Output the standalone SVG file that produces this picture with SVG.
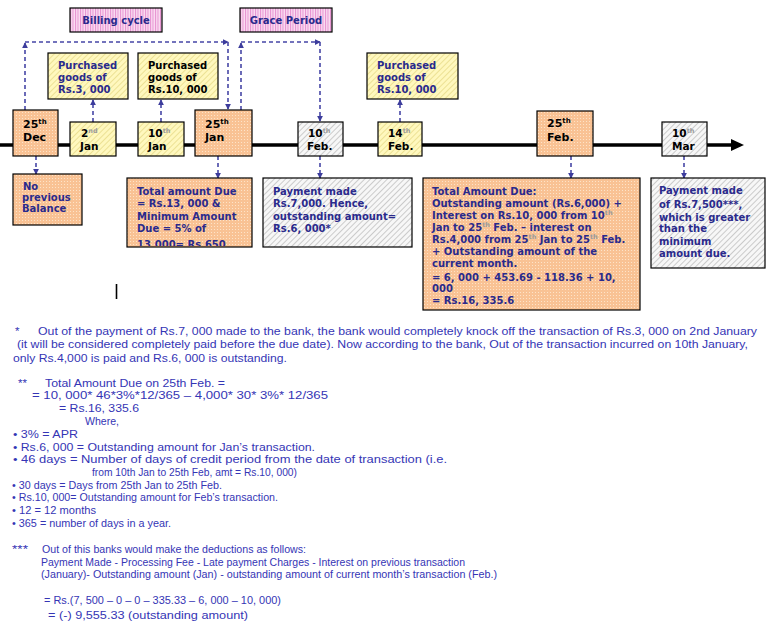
<svg xmlns="http://www.w3.org/2000/svg" width="780" height="630" viewBox="0 0 780 630">
<defs>
<pattern id="dots" width="3" height="3" patternUnits="userSpaceOnUse"><rect width="3" height="3" fill="#F9C294"/><rect x="1" y="1" width="1" height="1" fill="#FDE3C8"/></pattern>
<pattern id="yhatch" width="4" height="4" patternUnits="userSpaceOnUse" patternTransform="rotate(45)"><rect width="4" height="4" fill="#FFF8BE"/><line x1="0" y1="0" x2="0" y2="4" stroke="#D9CB6A" stroke-width="1"/></pattern>
<pattern id="ghatch" width="4" height="4" patternUnits="userSpaceOnUse" patternTransform="rotate(45)"><rect width="4" height="4" fill="#F7F7F7"/><line x1="0" y1="0" x2="0" y2="4" stroke="#A0A0A0" stroke-width="1"/></pattern>
<pattern id="pstripe" width="2.5" height="4" patternUnits="userSpaceOnUse"><rect width="2.5" height="4" fill="#FADDF2"/><line x1="0.5" y1="0" x2="0.5" y2="4" stroke="#E690D0" stroke-width="1"/></pattern>
<marker id="ah" viewBox="0 0 8 8" refX="7" refY="4" markerWidth="6" markerHeight="6" markerUnits="userSpaceOnUse" orient="auto"><path d="M0,0 L8,4 L0,8 Z" fill="#3C3C9C"/></marker>
<clipPath id="c25jan"><rect x="128" y="179" width="123" height="67"/></clipPath>
<style>
.box{stroke:#000;stroke-width:1.2}
.dash{fill:none;stroke:#4646A6;stroke-width:1.6;stroke-dasharray:4,3}
.bt{font-family:"DejaVu Sans",Verdana,sans-serif;font-weight:bold;font-size:10px;fill:#2A2A8C}
.bk{fill:#000}
.dt{font-family:"DejaVu Sans",Verdana,sans-serif;font-weight:bold;font-size:11px;fill:#000}
.ds{font-family:"DejaVu Sans",Verdana,sans-serif;font-weight:bold;font-size:10.5px;fill:#000}
.sup{font-size:7px}
.lsup{font-size:6.5px;fill:#9A9A9A}
.nt{font-family:"Liberation Sans",Arial,sans-serif;font-size:11.5px;fill:#3535B5}
.ns{font-size:10.5px}
</style>
</defs>
<rect width="780" height="630" fill="#fff"/>

<g id="billing-cycle"><rect class="box" x="70" y="8" width="92" height="24" fill="url(#pstripe)"/><text class="bt" x="116" y="24" text-anchor="middle">Billing cycle</text></g>
<g id="grace-period"><rect class="box" x="240" y="8" width="92" height="24" fill="url(#pstripe)"/><text class="bt" x="286" y="24" text-anchor="middle">Grace Period</text></g>

<g id="timeline">
<line x1="0" y1="145" x2="734" y2="145" stroke="#000" stroke-width="3.5"/>
<polygon points="731,139 744,145 731,151" fill="#000"/>
</g>

<g id="connectors">
<path class="dash" d="M25,110 V43" marker-end="url(#ah)"/>
<path class="dash" d="M25,42 H228" marker-end="url(#ah)"/>
<path class="dash" d="M228,42 V109" marker-end="url(#ah)"/>
<path class="dash" d="M241,110 V43" marker-end="url(#ah)"/>
<path class="dash" d="M241,42 H320" marker-end="url(#ah)"/>
<path class="dash" d="M320,42 V121" marker-end="url(#ah)"/>
<path class="dash" d="M93,122 V100" marker-end="url(#ah)"/>
<path class="dash" d="M161,122 V100" marker-end="url(#ah)"/>
<path class="dash" d="M400,122 V100" marker-end="url(#ah)"/>
<path class="dash" d="M36,156 V174" marker-end="url(#ah)"/>
<path class="dash" d="M218,156 V178" marker-end="url(#ah)"/>
<path class="dash" d="M320,156 V178" marker-end="url(#ah)"/>
<path class="dash" d="M571,156 V178" marker-end="url(#ah)"/>
<path class="dash" d="M684,156 V178" marker-end="url(#ah)"/>
</g>

<g id="purchased-3000"><rect class="box" x="48" y="53" width="80" height="46" fill="url(#yhatch)"/>
<text class="bt" x="58" y="69">Purchased</text><text class="bt" x="58" y="81">goods of</text><text class="bt" x="58" y="93">Rs.3, 000</text></g>
<g id="purchased-10000-jan"><rect class="box" x="138" y="53" width="80" height="46" fill="url(#yhatch)"/>
<text class="bt bk" x="148" y="69">Purchased</text><text class="bt bk" x="148" y="81">goods of</text><text class="bt bk" x="148" y="93">Rs.10, 000</text></g>
<g id="purchased-10000-feb"><rect class="box" x="367" y="53" width="91" height="46" fill="url(#yhatch)"/>
<text class="bt" x="377" y="69">Purchased</text><text class="bt" x="377" y="81">goods of</text><text class="bt" x="377" y="93">Rs.10, 000</text></g>

<g id="d25dec"><rect class="box" x="13" y="110" width="45" height="46" fill="url(#dots)"/>
<text class="dt" x="23" y="128">25<tspan class="sup" dy="-4">th</tspan></text><text class="dt" x="23" y="141">Dec</text></g>
<g id="d2jan"><rect class="box" x="70" y="122" width="46" height="34" fill="url(#yhatch)"/>
<text class="ds" x="81" y="137">2<tspan class="lsup" dy="-4">nd</tspan></text><text class="ds" x="80" y="150">Jan</text></g>
<g id="d10jan"><rect class="box" x="138" y="122" width="46" height="34" fill="url(#yhatch)"/>
<text class="ds" x="148" y="137">10<tspan class="lsup" dy="-4">th</tspan></text><text class="ds" x="148" y="150">Jan</text></g>
<g id="d25jan"><rect class="box" x="195" y="110" width="57" height="46" fill="url(#dots)"/>
<text class="dt" x="205" y="128">25<tspan class="sup" dy="-4">th</tspan></text><text class="dt" x="205" y="141">Jan</text></g>
<g id="d10feb"><rect class="box" x="298" y="122" width="45" height="34" fill="url(#ghatch)"/>
<text class="ds" x="308" y="137">10<tspan class="lsup" dy="-4">th</tspan></text><text class="ds" x="307" y="150">Feb.</text></g>
<g id="d14feb"><rect class="box" x="378" y="122" width="44" height="34" fill="url(#yhatch)"/>
<text class="ds" x="388" y="137">14<tspan class="lsup" dy="-4">th</tspan></text><text class="ds" x="388" y="150">Feb.</text></g>
<g id="d25feb"><rect class="box" x="537" y="111" width="56" height="45" fill="url(#dots)"/>
<text class="dt" x="547" y="127">25<tspan class="sup" dy="-4">th</tspan></text><text class="dt" x="547" y="141">Feb.</text></g>
<g id="d10mar"><rect class="box" x="662" y="122" width="45" height="34" fill="url(#ghatch)"/>
<text class="ds" x="672" y="137">10<tspan class="lsup" dy="-4">th</tspan></text><text class="ds" x="672" y="150">Mar</text></g>

<g id="note-25dec"><rect class="box" x="13" y="174" width="69" height="51" fill="url(#dots)"/>
<text class="bt" x="23" y="190">No</text><text class="bt" x="22" y="201">previous</text><text class="bt" x="22" y="212">Balance</text></g>

<g id="note-25jan"><rect class="box" x="127" y="178" width="125" height="69" fill="url(#dots)"/>
<g clip-path="url(#c25jan)">
<text class="bt" x="137" y="195">Total amount Due</text><text class="bt" x="137" y="207">= Rs.13, 000 &amp;</text><text class="bt" x="137" y="220">Minimum Amount</text><text class="bt" x="137" y="232">Due = 5% of</text><text class="bt" x="137" y="248">13,000= Rs.650</text></g></g>

<g id="note-10feb"><rect class="box" x="263" y="178" width="149" height="69" fill="url(#ghatch)"/>
<text class="bt" x="273" y="195">Payment made</text><text class="bt" x="273" y="207">Rs.7,000. Hence,</text><text class="bt" x="273" y="220">outstanding amount=</text><text class="bt" x="273" y="232">Rs.6, 000*</text></g>

<g id="note-25feb"><rect class="box" x="423" y="178" width="217" height="132" fill="url(#dots)"/>
<text class="bt" x="432" y="195">Total Amount Due:</text>
<text class="bt" x="432" y="207">Outstanding amount (Rs.6,000) +</text>
<text class="bt" x="432" y="219">Interest on Rs.10, 000 from 10<tspan class="lsup" dy="-4">th</tspan></text>
<text class="bt" x="432" y="231">Jan to 25<tspan class="lsup" dy="-4">th</tspan><tspan dy="4"> Feb. – interest on</tspan></text>
<text class="bt" x="432" y="243">Rs.4,000 from 25<tspan class="lsup" dy="-4">th</tspan><tspan dy="4"> Jan to 25</tspan><tspan class="lsup" dy="-4">th</tspan><tspan dy="4"> Feb.</tspan></text>
<text class="bt" x="432" y="255">+ Outstanding amount of the</text>
<text class="bt" x="432" y="267">current month.</text>
<text class="bt" x="432" y="281">= 6, 000 + 453.69 - 118.36 + 10,</text>
<text class="bt" x="432" y="292">000</text>
<text class="bt" x="432" y="304">= Rs.16, 335.6</text></g>

<g id="note-10mar"><rect class="box" x="651" y="178" width="114" height="90" fill="url(#ghatch)"/>
<text class="bt" x="659" y="194">Payment made</text><text class="bt" x="659" y="208">of Rs.7,500***,</text><text class="bt" x="659" y="221">which is greater</text><text class="bt" x="659" y="232">than the</text><text class="bt" x="659" y="245">minimum</text><text class="bt" x="659" y="257">amount due.</text></g>

<line x1="116.5" y1="284" x2="116.5" y2="299" stroke="#000" stroke-width="1.6"/>

<g id="notes">
<text class="nt" x="15" y="335">*</text>
<text class="nt" x="38" y="335" textLength="719" lengthAdjust="spacingAndGlyphs">Out of the payment of Rs.7, 000 made to the bank, the bank would completely knock off the transaction of Rs.3, 000 on 2nd January</text>
<text class="nt" x="17" y="348" textLength="731" lengthAdjust="spacingAndGlyphs">(it will be considered completely paid before the due date). Now according to the bank, Out of the transaction incurred on 10th January,</text>
<text class="nt" x="13" y="362" textLength="274" lengthAdjust="spacingAndGlyphs">only Rs.4,000 is paid and Rs.6, 000 is outstanding.</text>
<text class="nt" x="18" y="387">**</text>
<text class="nt" x="45" y="387" textLength="180" lengthAdjust="spacingAndGlyphs">Total Amount Due on 25th Feb. =</text>
<text class="nt" x="32" y="399" textLength="296" lengthAdjust="spacingAndGlyphs">= 10, 000* 46*3%*12/365 – 4,000* 30* 3%* 12/365</text>
<text class="nt" x="59" y="412" textLength="80" lengthAdjust="spacingAndGlyphs">= Rs.16, 335.6</text>
<text class="nt ns" x="85" y="425" textLength="34" lengthAdjust="spacingAndGlyphs">Where,</text>
<text class="nt" x="13" y="438" textLength="65" lengthAdjust="spacingAndGlyphs">• 3% = APR</text>
<text class="nt" x="13" y="451" textLength="302" lengthAdjust="spacingAndGlyphs">• Rs.6, 000 = Outstanding amount for Jan’s transaction.</text>
<text class="nt" x="13" y="463" textLength="434" lengthAdjust="spacingAndGlyphs">• 46 days = Number of days of credit period from the date of transaction (i.e.</text>
<text class="nt ns" x="92" y="476" textLength="205" lengthAdjust="spacingAndGlyphs">from 10th Jan to 25th Feb, amt = Rs.10, 000)</text>
<text class="nt ns" x="12" y="489" textLength="210" lengthAdjust="spacingAndGlyphs">• 30 days = Days from 25th Jan to 25th Feb.</text>
<text class="nt ns" x="12" y="501" textLength="266" lengthAdjust="spacingAndGlyphs">• Rs.10, 000= Outstanding amount for Feb’s transaction.</text>
<text class="nt ns" x="12" y="514" textLength="84" lengthAdjust="spacingAndGlyphs">• 12 = 12 months</text>
<text class="nt ns" x="12" y="527" textLength="159" lengthAdjust="spacingAndGlyphs">• 365 = number of days in a year.</text>
<text class="nt ns" x="12" y="553" textLength="16" lengthAdjust="spacingAndGlyphs">***</text>
<text class="nt ns" x="42" y="553" textLength="264" lengthAdjust="spacingAndGlyphs">Out of this banks would make the deductions as follows:</text>
<text class="nt ns" x="41" y="566" textLength="424" lengthAdjust="spacingAndGlyphs">Payment Made - Processing Fee - Late payment Charges - Interest on previous transaction</text>
<text class="nt ns" x="41" y="578" textLength="456" lengthAdjust="spacingAndGlyphs">(January)- Outstanding amount (Jan) - outstanding amount of current month’s transaction (Feb.)</text>
<text class="nt ns" x="44" y="604" textLength="237" lengthAdjust="spacingAndGlyphs">= Rs.(7, 500 – 0 – 0 – 335.33 – 6, 000 – 10, 000)</text>
<text class="nt" x="48" y="619" font-size="13" textLength="200" lengthAdjust="spacingAndGlyphs">=  (-) 9,555.33 (outstanding amount)</text>
</g>
</svg>
